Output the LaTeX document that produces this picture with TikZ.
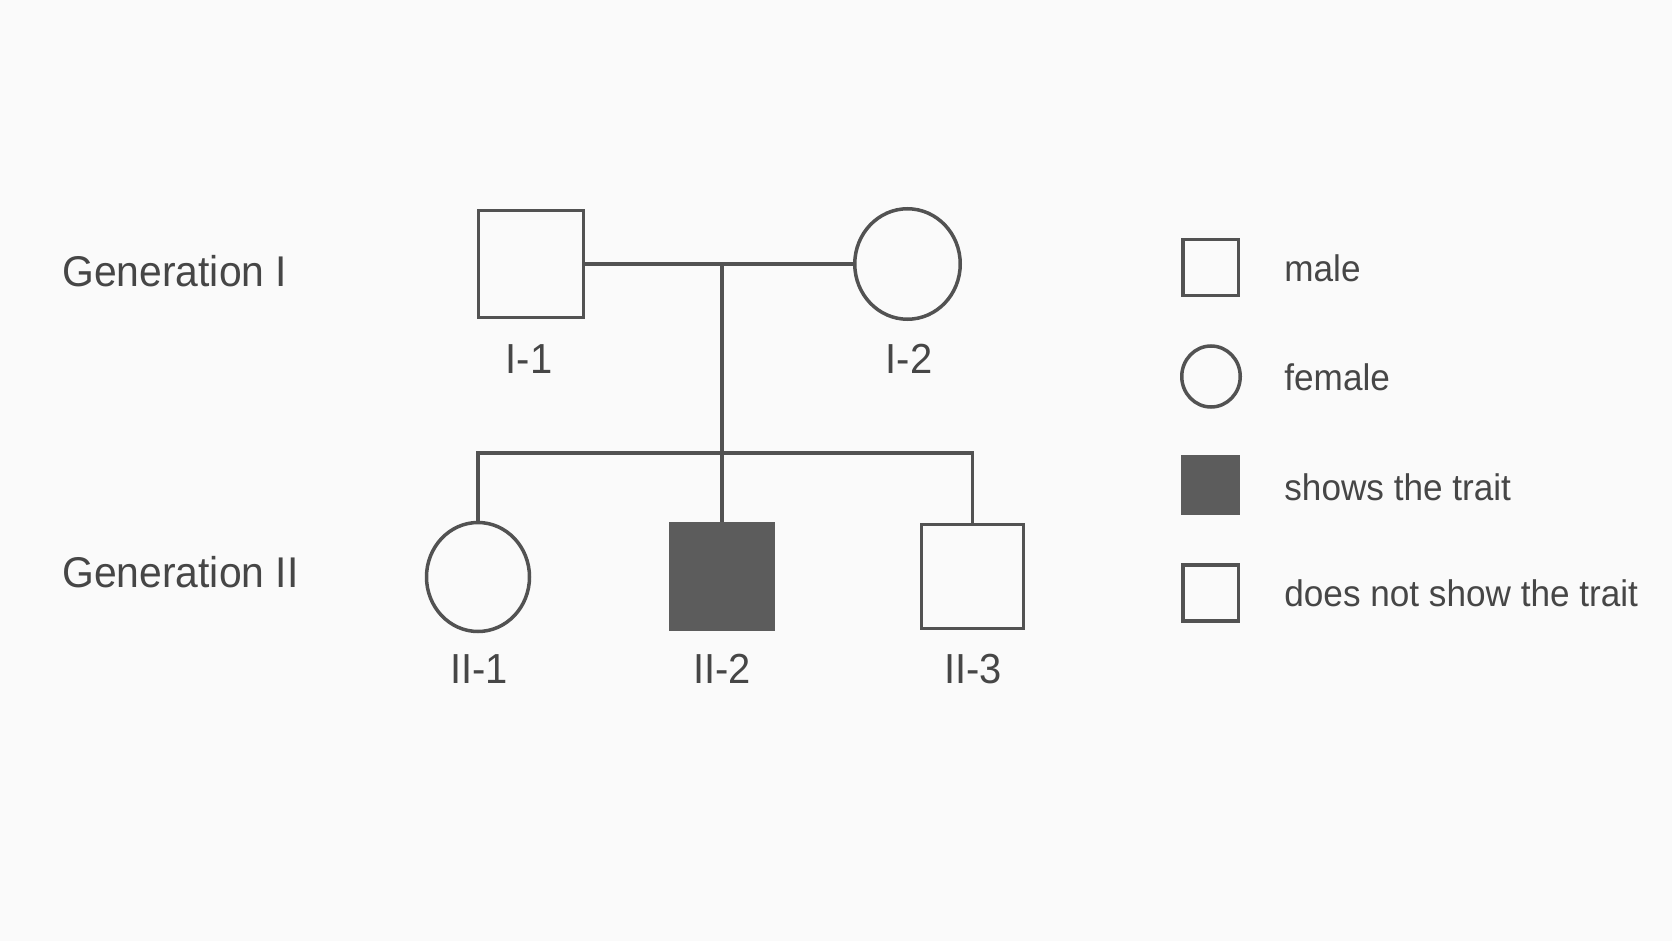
\documentclass[tikz,border=0pt]{standalone}
\usepackage{fontspec}
\setmainfont{Liberation Sans}[FakeStretch=0.95]
\usetikzlibrary{shapes.geometric}
\definecolor{ink}{RGB}{82,82,82}
\definecolor{txt}{RGB}{70,70,70}
\definecolor{fillg}{RGB}{92,92,92}
\definecolor{bg}{RGB}{250,250,250}
\begin{document}
\begin{tikzpicture}[x=0.5pt,y=-0.5pt,
  malebox/.style={draw=ink,line width=1.75pt,rectangle,inner sep=0pt,minimum width=52pt,minimum height=53pt},
  femalebox/.style={draw=ink,line width=1.75pt,ellipse,inner sep=0pt,minimum width=52pt,minimum height=55pt},
  affected/.style={fill=fillg,draw=fillg},
  legsq/.style={draw=ink,line width=1.75pt,rectangle,inner sep=0pt,minimum width=27.75pt,minimum height=28pt},
  legcirc/.style={draw=ink,line width=1.75pt,ellipse,inner sep=0pt,minimum width=29.25pt,minimum height=30.5pt},
  leglabel/.style={text=txt,font=\fontsize{18.5pt}{22pt}\selectfont,anchor=base west,inner sep=0pt},
  idlabel/.style={text=txt,font=\fontsize{21pt}{25pt}\selectfont,anchor=base,inner sep=0pt},
  genlabel/.style={text=txt,font=\fontsize{21.5pt}{26pt}\selectfont,anchor=base west,inner sep=0pt},
  link/.style={draw=ink,line width=1.75pt,line join=miter}]
\fill[bg] (0,0) rectangle (1672,941);
\useasboundingbox (0,0) rectangle (1672,941);

% generation labels
\node[genlabel] (g1) at (62,287) {Generation I};
\node[genlabel] (g2) at (62,587) {Generation II};

% generation I
\node[malebox,minimum width=52.5pt,minimum height=53.5pt] (I1) at (531,264) {};
\node[femalebox,minimum width=52.75pt,minimum height=55.25pt] (I2) at (907.5,264) {};
\node[idlabel] (lI1) at (529,373) {I-1};
\node[idlabel] (lI2) at (909,373) {I-2};

% generation II
\node[femalebox,minimum width=51.5pt,minimum height=54.5pt] (II1) at (478,577) {};
\node[malebox,affected,minimum width=51pt,minimum height=53pt] (II2) at (722,576.5) {};
\node[malebox,minimum width=51pt,minimum height=52pt] (II3) at (972.5,576.5) {};
\node[idlabel] (lII1) at (479,683) {II-1};
\node[idlabel] (lII2) at (722,683) {II-2};
\node[idlabel] (lII3) at (973,683) {II-3};

% connectors
\coordinate (mid) at (722,265);
\coordinate (sib) at (722,453);
\draw[link] (I1.east) -- (I2.west);
\draw[link] (mid) -- (sib);
\draw[link] (II1.north) |- (sib) -| (II3.north);
\draw[link] (sib) -- (II2.north);

% legend
\node[legsq] (kmale) at (1210.5,267.5) {};
\node[legcirc] (kfemale) at (1211,376.5) {};
\node[legsq,affected] (kaff) at (1210.5,485) {};
\node[legsq] (kun) at (1210.5,593) {};
\node[leglabel] (tmale) at (1284,282) {male};
\node[leglabel] (tfemale) at (1284,391) {female};
\node[leglabel] (taff) at (1284,500) {shows the trait};
\node[leglabel] (tun) at (1284,606) {does not show the trait};
\end{tikzpicture}
\end{document}
